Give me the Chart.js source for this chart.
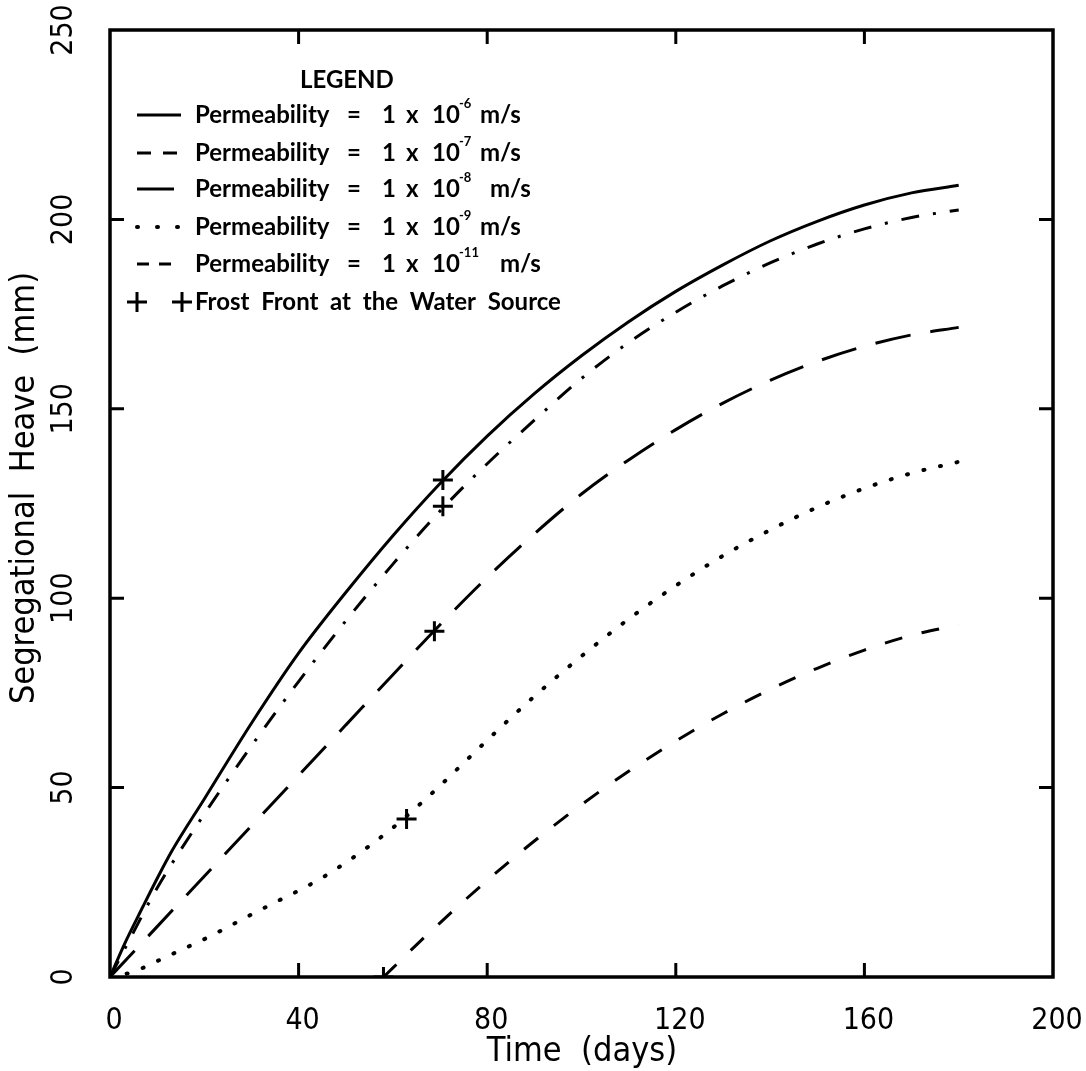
<!DOCTYPE html>
<html>
<head>
<meta charset="utf-8">
<title>Segregational Heave vs Time</title>
<script src="https://cdn.jsdelivr.net/npm/chart.js@4.4.1/dist/chart.umd.min.js"></script>
<style>
  body { margin: 0; background: #fff; }
</style>
</head>
<body>
<canvas id="heaveChart" width="1086" height="1071"></canvas>
<script>
// Start Data
const xTicks = [0, 40, 80, 120, 160, 200];
const yTicks = [0, 50, 100, 150, 200, 250];

// k = 1e-6
const days6 = [0, 3, 7, 10, 13, 20, 30, 40, 50, 60, 70, 80, 90, 100, 110, 120, 130, 140, 150, 160, 170, 180];
const heave6 = [0, 8.5, 18.6, 26, 33, 47, 67, 85.5, 101.5, 116.5, 130.3, 142.8, 154, 164, 173, 181, 188, 194.3, 199.5, 203.8, 207, 209];

// k = 1e-7
const days7 = [0, 4, 10, 20, 30, 40, 50, 60, 70, 80, 90, 100, 110, 120, 130, 140, 150, 160, 170, 180];
const heave7 = [0, 9.5, 23.5, 43, 61, 78, 94, 109, 123, 135.5, 147, 158, 167.5, 175.5, 182.5, 188.5, 193.5, 197.5, 200.5, 202.5];

// k = 1e-8
const days8 = [0, 10, 20, 30, 40, 50, 60, 70, 80, 90, 100, 110, 120, 130, 140, 150, 160, 170, 180];
const heave8 = [0, 13.3, 26.6, 39.9, 53.2, 66.5, 79.8, 93, 105.5, 117, 127.5, 136.5, 144.5, 151.5, 157.5, 162.5, 166.5, 169.5, 171.5];

// k = 1e-9
const days9 = [0, 5, 10, 15, 20, 25, 30, 35, 40, 45, 50, 55, 60, 65, 70, 75, 80, 85, 90, 100, 110, 120, 130, 140, 150, 160, 170, 180];
const heave9 = [0, 1.4, 4.2, 7.1, 10, 13.2, 16.5, 19.7, 22.8, 26.2, 30.2, 34.6, 39.4, 44.8, 50.5, 56.5, 62.5, 68.4, 74.1, 84.7, 94.5, 103.3, 111.2, 118, 124, 129, 133, 136];

// k = 1e-11
const days11 = [58, 60, 65, 70, 75, 80, 85, 90, 100, 110, 120, 130, 140, 150, 160, 170, 180];
const heave11 = [0, 2.4, 8.5, 14.3, 20, 25.5, 30.8, 35.9, 45.5, 54.3, 62.3, 69.5, 75.9, 81.5, 86.3, 90.2, 93];

// frost front at the water source
const frostDays = [70.6, 70.6, 68.8, 62.9, 58];
const frostHeave = [131.2, 124.3, 91.3, 41.7, 0];

const exponents = ['-6', '-7', '-8', '-9', '-11'];
// End Data

function pts(xs, ys) {
    return xs.map(function (x, i) { return { x: x, y: ys[i] }; });
}

const dashSolid = [];
const dashDot = [18, 14, 3, 14];
const dashLong = [36, 20];
const dashDotted = [1, 16];
const dashShort = [18, 20];

function lineSet(label, xs, ys, dash, width) {
    return {
        type: 'line',
        label: label,
        data: pts(xs, ys),
        borderColor: '#000',
        borderWidth: width || 3,
        borderDash: dash,
        borderCapStyle: dash === dashDotted ? 'round' : 'butt',
        pointRadius: 0,
        fill: false,
        cubicInterpolationMode: 'monotone'
    };
}

// Start Frame, ticks, labels and legend
const paperPlugin = {
    id: 'paper',
    afterDraw: function (chart) {
        const c = chart.ctx;
        const a = chart.chartArea;
        const sx = chart.scales.x;
        const sy = chart.scales.y;
        c.save();
        c.strokeStyle = '#000';
        c.fillStyle = '#000';

        // frame
        c.lineWidth = 3.5;
        c.setLineDash([]);
        c.strokeRect(a.left, a.top, a.right - a.left, a.bottom - a.top);

        // inward ticks
        c.lineWidth = 3;
        const tl = 14;
        xTicks.slice(1, -1).forEach(function (v) {
            const px = sx.getPixelForValue(v);
            c.beginPath();
            c.moveTo(px, a.bottom); c.lineTo(px, a.bottom - tl);
            c.moveTo(px, a.top); c.lineTo(px, a.top + tl);
            c.stroke();
        });
        yTicks.slice(1, -1).forEach(function (v) {
            const py = sy.getPixelForValue(v);
            c.beginPath();
            c.moveTo(a.left, py); c.lineTo(a.left + tl, py);
            c.moveTo(a.right, py); c.lineTo(a.right - tl, py);
            c.stroke();
        });

        // tick labels
        c.font = '30px "DejaVu Sans Condensed", "DejaVu Sans"';
        c.textAlign = 'center';
        c.textBaseline = 'middle';
        xTicks.forEach(function (v) {
            c.fillText(String(v), sx.getPixelForValue(v) + 4, 1021);
        });
        yTicks.forEach(function (v) {
            c.save();
            c.translate(64, sy.getPixelForValue(v));
            c.rotate(-Math.PI / 2);
            c.fillText(String(v), 0, 0);
            c.restore();
        });

        // axis titles
        c.font = '34px "DejaVu Sans Condensed", "DejaVu Sans"';
        c.fillText('Time  (days)', 582, 1052);
        c.save();
        c.translate(25, 488);
        c.rotate(-Math.PI / 2);
        c.fillText('Segregational  Heave  (mm)', 0, 0);
        c.restore();

        // legend
        const bigFont = 'bold 24px Lato, "DejaVu Sans"';
        c.font = bigFont;
        c.textAlign = 'left';
        c.fillText('LEGEND', 300, 80);
        const rowY = [115, 153, 189, 227, 264];
        const sample = [[], [14, 12], [], [1, 19], [12, 10]];
        const msX = [480, 480, 490, 480, 500];
        rowY.forEach(function (y, i) {
            c.lineWidth = i === 3 ? 4 : 3;
            c.lineCap = i === 3 ? 'round' : 'butt';
            c.setLineDash(sample[i]);
            c.beginPath();
            c.moveTo(137, y); c.lineTo(i === 2 ? 174 : 181, y);
            c.stroke();
            c.setLineDash([]);
            c.lineCap = 'butt';
            c.font = bigFont;
            c.fillText('Permeability', 195, y);
            c.fillText('=', 347, y);
            c.fillText('1', 382, y);
            c.fillText('x', 406, y);
            c.fillText('10', 432, y);
            c.fillText('m/s', msX[i], y);
            c.font = 'bold 13px Lato, "DejaVu Sans"';
            c.fillText(exponents[i], 459, y - 11);
        });
        // frost front row
        const fy = 302;
        c.lineWidth = 3;
        [137, 182].forEach(function (x) {
            c.beginPath();
            c.moveTo(x - 10, fy); c.lineTo(x + 10, fy);
            c.moveTo(x, fy - 10); c.lineTo(x, fy + 10);
            c.stroke();
        });
        c.font = bigFont;
        c.fillText('Frost  Front  at  the  Water  Source', 195, fy);
        c.restore();
    }
};
// End Frame, ticks, labels and legend

// Start Heave Chart
const ctx = document.getElementById('heaveChart');

new Chart(ctx, {
    data: {
        datasets: [
            lineSet('Permeability = 1 x 10^-6 m/s', days6, heave6, dashSolid),
            lineSet('Permeability = 1 x 10^-7 m/s', days7, heave7, dashDot),
            lineSet('Permeability = 1 x 10^-8 m/s', days8, heave8, dashLong),
            lineSet('Permeability = 1 x 10^-9 m/s', days9, heave9, dashDotted, 4),
            lineSet('Permeability = 1 x 10^-11 m/s', days11, heave11, dashShort),
            {
                type: 'scatter',
                label: 'Frost Front at the Water Source',
                data: pts(frostDays, frostHeave),
                pointStyle: 'cross',
                pointRadius: 10,
                borderWidth: 3,
                borderColor: '#000',
                backgroundColor: '#000'
            }
        ]
    },
    options: {
        responsive: false,
        animation: false,
        layout: { padding: { left: 110, top: 30, right: 33, bottom: 94 } },
        plugins: {
            legend: { display: false },
            tooltip: { enabled: false }
        },
        scales: {
            x: { type: 'linear', min: 0, max: 200, display: false },
            y: { type: 'linear', min: 0, max: 250, display: false }
        }
    },
    plugins: [paperPlugin]
});
// End Heave Chart
</script>
</body>
</html>
